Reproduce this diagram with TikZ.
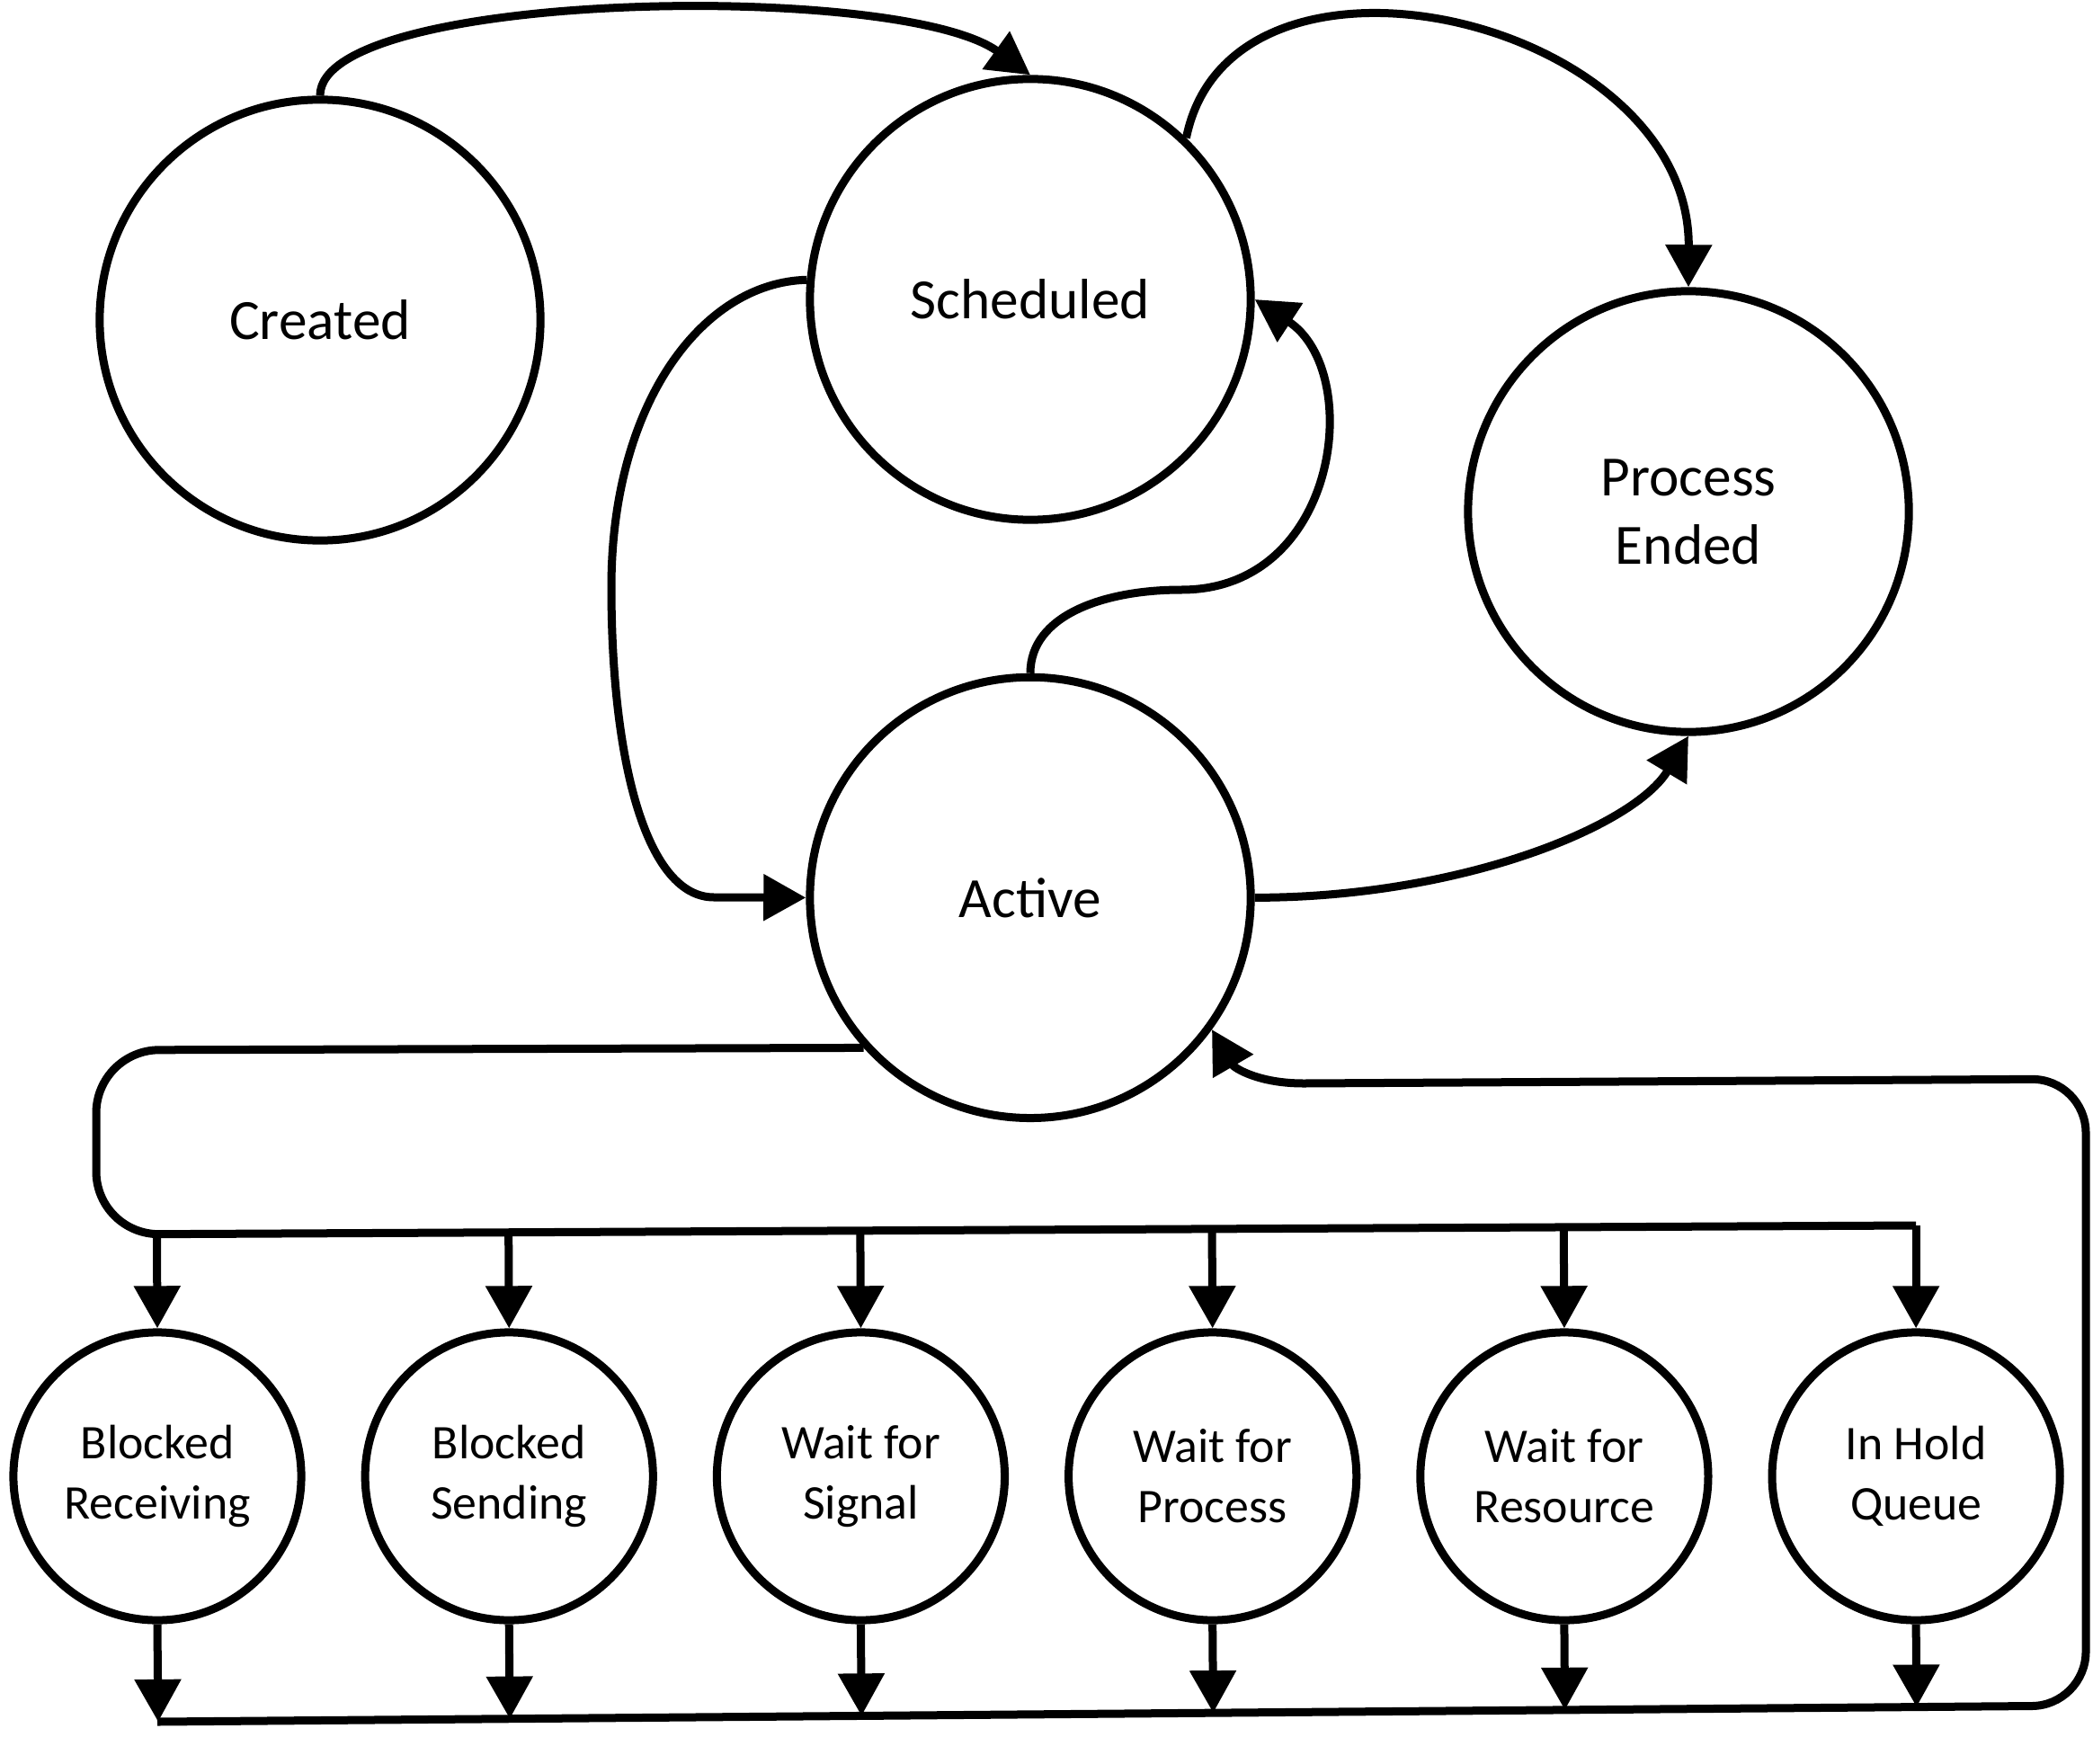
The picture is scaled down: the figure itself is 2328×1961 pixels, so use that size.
\documentclass[tikz,border=0pt]{standalone}
\usepackage{fontspec}
\setmainfont{Carlito}
\usetikzlibrary{calc,arrows.meta,positioning}

\begin{document}
\begin{tikzpicture}[x=0.01cm,y=-0.01cm]
      \tikzset{
          state/.style={circle,draw=black,line width=2.56pt,minimum size=4.9cm,inner sep=0pt,align=center,font=\fontsize{18}{21.6}\selectfont},
          substate/.style={circle,draw=black,line width=2.56pt,minimum size=3.2cm,inner sep=0pt,align=center,font=\fontsize{15.3}{19}\selectfont},
          myarrow/.style={draw,line width=2.56pt,-{Triangle[length=13.4pt,width=14.2pt]}},
          myline/.style={draw,line width=2.56pt},
      }
      \useasboundingbox (0,0) rectangle (2328,1961);

      \node[state] (created) at (356,356) {Created};
      \node[state] (sched) at (1146,333) {Scheduled};
      \node[state] (ended) at (1878,569) {Process\\Ended};
      \node[state, below=1.66cm of sched] (active) {Active};

      \node[substate] (item1) at (175,1642) {Blocked\\Receiving};
      \node[substate, right=0.62cm of item1] (item2) {Blocked\\Sending};
      \node[substate, right=0.62cm of item2] (item3) {Wait for\\Signal};
      \node[substate, right=0.62cm of item3] (item4) {Wait for\\Process};
      \node[substate, right=0.62cm of item4] (item5) {Wait for\\Resource};
      \node[substate, right=0.62cm of item5] (item6) {In Hold\\Queue};

      \coordinate (AuxNode01) at (107,1168);
      \coordinate (AuxNode02) at (107,1373);
      \coordinate (AuxNode03) at (item6.north |- 0,1363);
      \coordinate (AuxNode04) at (item1.south |- 0,1915);
      \coordinate (AuxNode05) at (2320,1897);
      \coordinate (AuxNode06) at (2320,1200);
      \coordinate (AuxNode07) at (1450,1205);
      \coordinate (AuxNode08) at (680,653);
      \coordinate (AuxNode09) at (794,998);
      \coordinate (AuxNode10) at (1314,656);

      \path[myarrow] (created.north) .. controls +(0,-117) and +(-146,-105) .. (sched.north);
      \path[myarrow] (sched.46) .. controls +(50,-250) and +(2,-300) .. (ended.north);
      \path[myarrow] (sched.175) .. controls +(-117,3) and +(0,-203) .. (AuxNode08)
          .. controls +(0,197) and +(-74,0) .. (AuxNode09) -- (active.west);
      \path[myarrow] (active.north) .. controls +(0,-65) and +(-85,0) .. (AuxNode10)
          .. controls +(176,0) and +(122,80) .. (sched.east);
      \path[myarrow] (active.east) .. controls +(230,0) and +(-60,100) .. (ended.south);

      \path[myline, rounded corners=0.7cm] (active.222) -- (AuxNode01) -- (AuxNode02) -- (AuxNode03);
      \path[myarrow] (AuxNode03) -- (item6.north);
      \path[myarrow] ($(AuxNode02)!(item1.north)!(AuxNode03)$) -- (item1.north);
      \path[myarrow] ($(AuxNode02)!(item2.north)!(AuxNode03)$) -- (item2.north);
      \path[myarrow] ($(AuxNode02)!(item3.north)!(AuxNode03)$) -- (item3.north);
      \path[myarrow] ($(AuxNode02)!(item4.north)!(AuxNode03)$) -- (item4.north);
      \path[myarrow] ($(AuxNode02)!(item5.north)!(AuxNode03)$) -- (item5.north);

      \path[myarrow] (item1.south) -- ($(AuxNode04)!(item1.south)!(AuxNode05)$);
      \path[myarrow] (item2.south) -- ($(AuxNode04)!(item2.south)!(AuxNode05)$);
      \path[myarrow] (item3.south) -- ($(AuxNode04)!(item3.south)!(AuxNode05)$);
      \path[myarrow] (item4.south) -- ($(AuxNode04)!(item4.south)!(AuxNode05)$);
      \path[myarrow] (item5.south) -- ($(AuxNode04)!(item5.south)!(AuxNode05)$);
      \path[myarrow] (item6.south) -- ($(AuxNode04)!(item6.south)!(AuxNode05)$);

      \path[myline, rounded corners=0.6cm] (AuxNode04) -- (AuxNode05) -- (AuxNode06) -- (AuxNode07);
      \path[myarrow] (AuxNode07) .. controls +(-50,0) and +(25,43) .. (active.-36);
\end{tikzpicture}
\end{document}
